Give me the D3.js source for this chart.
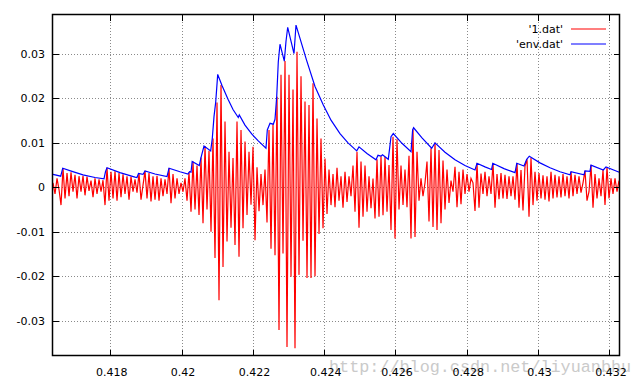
<!DOCTYPE html>
<html>
<head>
<meta charset="utf-8">
<title>1.dat / env.dat</title>
<script src="https://d3js.org/d3.v7.min.js"></script>
<style>
  html, body { margin: 0; padding: 0; background: #fff; }
  #chart { width: 640px; height: 387px; }
  text { font-family: "DejaVu Sans", Verdana, sans-serif; font-size: 11px; fill: #000; }
  .grid line { stroke: #8a8a8a; stroke-dasharray: 1,2; shape-rendering: crispEdges; }
  .axis line { shape-rendering: crispEdges; }
  .watermark { font-family: "Liberation Mono", monospace; font-size: 16.8px; fill: #cacaca; }
</style>
</head>
<body>
<div id="chart"></div>
<script>
// '1.dat' : one sample every samplePeriod seconds, values in units of 1e-3
const sampleStart = 0.416393;
const samplePeriod = 0.0000561;
const signalValues = [
    1.0, -1.5, 2.0, -0.5, -4.0, 4.3, -2.5, 3.2, -2.0, 3.4,
    -1.0, 2.8, -2.5, 2.5, -1.0, 2.6, -1.8, 2.4, -0.8, 1.5,
    -2.2, 2.0, -1.5, 1.8, -1.0, 1.6, -4.0, 4.4, -3.0, 3.5,
    -2.5, 3.6, -3.0, 3.2, -2.2, 2.9, -1.5, 2.5, -2.8, 2.4,
    -1.0, 1.8, -1.2, 3.1, -2.8, 0.5, 3.7, -2.5, 3.2, -3.2,
    2.5, -2.8, 2.6, -3.0, 2.0, -2.0, 1.8, -1.5, 4.3, -3.6,
    3.0, -2.5, 2.0, -1.5, 1.0, -1.0, 2.0, -3.0, 3.4, -5.5,
    5.8, -5.0, 4.9, -6.2, 6.7, -8.1, 9.3, -5.0, 8.2, -10.0,
    11.0, -15.9, 19.1, -25.4, 23.0, -17.9, 14.8, -12.2, 8.0, -9.1,
    6.6, -13.0, 14.8, -15.6, 12.9, -9.2, 10.3, -6.2, 8.0, -3.9,
    9.1, -11.9, 4.5, -5.4, 3.0, -4.0, 4.0, -7.9, 12.9, -13.8,
    14.2, -15.3, 20.4, -32.1, 25.3, -14.9, 28.4, -35.9, 25.3, -20.1,
    22.0, -36.2, 30.5, -19.7, 25.0, -12.0, 19.3, -20.4, 18.5, -20.4,
    23.4, -20.0, 15.5, -10.5, 11.0, -9.2, 6.5, -6.0, 4.0, -4.0,
    3.0, -4.5, 4.4, -3.0, 2.5, -4.6, 3.5, -3.3, 2.5, -2.0,
    4.9, -5.5, 8.0, -9.1, 5.8, -6.6, 4.9, -5.5, 2.5, -4.7,
    2.0, -7.0, 6.3, -6.6, 7.0, -6.3, 6.8, -5.5, 5.0, -9.6,
    11.4, -11.5, 10.8, -5.0, 4.9, -4.0, 4.0, -4.5, 7.1, -11.5,
    13.0, -11.2, 8.0, -3.0, 2.0, -2.0, 1.0, 5.8, -7.7, 8.8,
    -8.9, 10.0, -9.6, 8.4, -8.1, 6.0, -5.0, 4.0, -3.5, 1.5,
    -1.0, 4.6, -4.5, 3.5, -3.8, 4.0, -1.5, 3.0, -1.0, 2.0,
    1.0, -5.3, 5.4, -4.6, 3.1, -1.5, 3.5, -2.0, 2.5, -1.5,
    5.4, -4.6, 3.0, -2.7, 3.2, -2.5, 2.8, -2.6, 2.5, -2.0,
    2.5, -2.8, 5.4, -4.6, 3.9, -5.2, 4.8, 6.3, -6.6, 6.6,
    -4.0, 3.5, -3.0, 3.2, -2.5, 2.7, -2.8, 2.5, -3.2, 3.5,
    -2.5, 2.8, -2.3, 2.5, -2.3, 3.0, -2.0, 2.5, -2.5, 3.5,
    -2.0, 2.8, -1.5, 2.5, -1.2, 1.0, 3.7, -3.0, -1.0, 5.0,
    -4.6, 3.0, -2.5, 2.0, -2.0, 3.9, -4.0, 4.5, -2.5, 2.0,
    -1.5, 2.0, -1.0, 1.5
];

// 'env.dat' : envelope, time in s, value in units of 1e-3
const envTimes = [
    0.416393, 0.416609, 0.416665, 0.416926, 0.417234, 0.417571, 0.417823, 0.417865, 0.417907, 0.418272,
    0.418693, 0.418749, 0.418791, 0.418917, 0.418973, 0.419254, 0.419590, 0.419647, 0.419955, 0.420179,
    0.420222, 0.420264, 0.420297, 0.420496, 0.420544, 0.420628, 0.420816, 0.420861, 0.420909, 0.420956,
    0.421013, 0.421133, 0.421302, 0.421442, 0.421590, 0.421618, 0.421778, 0.421966, 0.422143, 0.422367,
    0.422404, 0.422480, 0.422572, 0.422620, 0.422668, 0.422712, 0.422760, 0.422881, 0.422928, 0.422976,
    0.423153, 0.423209, 0.423509, 0.423742, 0.423975, 0.424191, 0.424443, 0.424668, 0.424912, 0.424976,
    0.425200, 0.425453, 0.425509, 0.425593, 0.425635, 0.425798, 0.425874, 0.425938, 0.426182, 0.426435,
    0.426480, 0.426508, 0.426743, 0.427015, 0.427108, 0.427388, 0.427669, 0.427949, 0.428230, 0.428286,
    0.428510, 0.428693, 0.428729, 0.429043, 0.429352, 0.429402, 0.429604, 0.429680, 0.429753, 0.430053,
    0.430334, 0.430614, 0.430895, 0.430923, 0.431287, 0.431315, 0.431456, 0.431484, 0.431829, 0.431904,
    0.432277
];
const envValues = [
    2.9, 2.5, 4.3, 3.6, 2.8, 2.2, 1.9, 3.5, 4.4, 3.3,
    2.3, 2.2, 3.1, 2.9, 3.7, 3.0, 2.4, 4.3, 3.5, 3.0,
    3.5, 3.4, 5.8, 4.9, 6.7, 9.3, 8.2, 11.0, 15.9, 19.1,
    25.4, 22.9, 19.8, 17.5, 15.7, 16.3, 14.0, 12.0, 10.5, 8.8,
    12.9, 14.4, 14.2, 15.3, 20.4, 28.2, 32.2, 28.4, 32.8, 36.0,
    30.1, 36.5, 28.5, 22.7, 18.5, 15.1, 12.1, 10.0, 8.2, 9.1,
    7.6, 6.2, 7.2, 7.0, 7.3, 6.3, 11.4, 12.1, 9.9, 8.0,
    12.9, 13.4, 11.1, 8.8, 10.0, 7.9, 6.2, 4.9, 3.9, 5.4,
    4.6, 4.0, 5.4, 4.2, 3.3, 5.4, 4.8, 6.3, 7.0, 5.5,
    4.4, 3.5, 2.8, 3.5, 2.8, 3.7, 3.6, 5.0, 3.9, 4.6,
    3.4
];

const xTicks = [0.418, 0.420, 0.422, 0.424, 0.426, 0.428, 0.430, 0.432];
const xTickLabels = ['0.418', '0.42', '0.422', '0.424', '0.426', '0.428', '0.43', '0.432'];
const yTicks = [-0.03, -0.02, -0.01, 0, 0.01, 0.02, 0.03];
const yTickLabels = ['-0.03', '-0.02', '-0.01', '0', '0.01', '0.02', '0.03'];
const seriesNames = ["'1.dat'", "'env.dat'"];

const width = 640;
const height = 387;
const plot = { left: 52.5, right: 619.5, top: 14.5, bottom: 355.5 };

const signal = signalValues.map((v, i) => ({ t: sampleStart + i * samplePeriod, v: v / 1000 }));
const envelope = envTimes.map((t, i) => ({ t: t, v: envValues[i] / 1000 }));

const svg = d3.select('#chart').append('svg')
    .attr('width', width)
    .attr('height', height)
    .attr('viewBox', `0 0 ${width} ${height}`);

svg.append('rect').attr('width', width).attr('height', height).attr('fill', '#fff');

const x = d3.scaleLinear().domain([0.4163787, 0.4322833]).range([plot.left, plot.right]);
const y = d3.scaleLinear().domain([-0.03784, 0.03888]).range([plot.bottom, plot.top]);

// watermark sits under everything else
svg.append('text')
    .attr('class', 'watermark')
    .attr('x', 329)
    .attr('y', 372)
    .text('http://blog.csdn.net/liyuanbhu');

// dotted grid
svg.append('g')
    .attr('class', 'grid')
    .attr('transform', `translate(0,${plot.bottom})`)
    .call(d3.axisBottom(x).tickValues(xTicks).tickSize(-(plot.bottom - plot.top)).tickFormat(''))
    .call(g => g.select('.domain').remove());

svg.append('g')
    .attr('class', 'grid')
    .attr('transform', `translate(${plot.left},0)`)
    .call(d3.axisLeft(y).tickValues(yTicks).tickSize(-(plot.right - plot.left)).tickFormat(''))
    .call(g => g.select('.domain').remove());

// curves
svg.append('clipPath').attr('id', 'clip')
    .append('rect')
    .attr('x', plot.left).attr('y', plot.top)
    .attr('width', plot.right - plot.left).attr('height', plot.bottom - plot.top);

const line = d3.line().x(d => x(d.t)).y(d => y(d.v));

svg.append('path')
    .datum(signal)
    .attr('clip-path', 'url(#clip)')
    .attr('fill', 'none')
    .attr('stroke', '#ff0000')
    .attr('stroke-width', 1.2)
    .attr('d', line);

svg.append('path')
    .datum(envelope)
    .attr('clip-path', 'url(#clip)')
    .attr('fill', 'none')
    .attr('stroke', '#0000ff')
    .attr('stroke-width', 1.2)
    .attr('d', line);

// inward ticks on all four sides, labels only bottom and left
svg.append('g')
    .attr('class', 'axis')
    .attr('transform', `translate(0,${plot.bottom})`)
    .call(d3.axisBottom(x).tickValues(xTicks).tickFormat((d, i) => xTickLabels[i]).tickSize(-6).tickPadding(12.5))
    .call(g => g.select('.domain').remove())
    .call(g => g.selectAll('text').attr('dx', 1));

svg.append('g')
    .attr('class', 'axis')
    .attr('transform', `translate(0,${plot.top})`)
    .call(d3.axisTop(x).tickValues(xTicks).tickFormat('').tickSize(-6))
    .call(g => g.select('.domain').remove());

svg.append('g')
    .attr('class', 'axis')
    .attr('transform', `translate(${plot.left},0)`)
    .call(d3.axisLeft(y).tickValues(yTicks).tickFormat((d, i) => yTickLabels[i]).tickSize(-6).tickPadding(7.5))
    .call(g => g.select('.domain').remove());

svg.append('g')
    .attr('class', 'axis')
    .attr('transform', `translate(${plot.right},0)`)
    .call(d3.axisRight(y).tickValues(yTicks).tickFormat('').tickSize(-6))
    .call(g => g.select('.domain').remove());

// border
svg.append('rect')
    .attr('x', plot.left).attr('y', plot.top)
    .attr('width', plot.right - plot.left).attr('height', plot.bottom - plot.top)
    .attr('fill', 'none')
    .attr('stroke', '#000')
    .attr('stroke-width', 1.5);

// legend, top right
const legendColors = ['#ff0000', '#0000ff'];
const legend = svg.append('g');
seriesNames.forEach((name, i) => {
    const ly = 29 + i * 15;
    legend.append('text')
        .attr('x', 563)
        .attr('y', ly)
        .attr('dy', '0.35em')
        .attr('text-anchor', 'end')
        .text(name);
    legend.append('line')
        .attr('x1', 571).attr('x2', 606)
        .attr('y1', ly).attr('y2', ly)
        .attr('stroke', legendColors[i])
        .attr('stroke-width', 1.2);
});
</script>
</body>
</html>
